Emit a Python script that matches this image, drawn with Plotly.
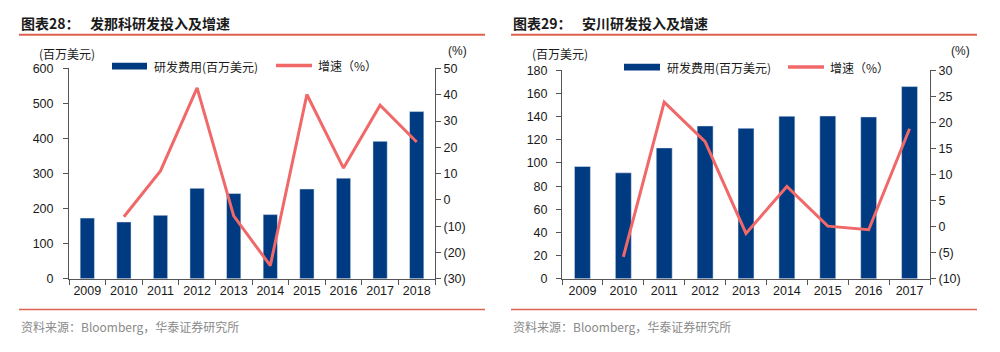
import plotly.graph_objects as go

# ---------------- data ----------------
years_fanuc = ["2009", "2010", "2011", "2012", "2013", "2014", "2015", "2016", "2017", "2018"]
rd_fanuc = [173, 162, 181, 258, 243, 183, 256, 287, 392, 477]
growth_fanuc = [None, -6.4, 11.0, 42.6, -6.1, -25.0, 40.1, 12.1, 36.0, 22.0]

years_yaskawa = ["2009", "2010", "2011", "2012", "2013", "2014", "2015", "2016", "2017"]
rd_yaskawa = [97, 91.5, 113, 132, 130, 140.4, 140.6, 139.8, 166]
growth_yaskawa = [None, -5.8, 23.9, 16.3, -1.3, 7.7, 0.1, -0.6, 18.8]

left_ticks_fanuc = [0, 100, 200, 300, 400, 500, 600]
right_ticks_fanuc = [-30, -20, -10, 0, 10, 20, 30, 40, 50]
right_text_fanuc = ["(30)", "(20)", "(10)", "0", "10", "20", "30", "40", "50"]
left_ticks_yaskawa = [0, 20, 40, 60, 80, 100, 120, 140, 160, 180]
right_ticks_yaskawa = [-10, -5, 0, 5, 10, 15, 20, 25, 30]
right_text_yaskawa = ["(10)", "(5)", "0", "5", "10", "15", "20", "25", "30"]

title_fanuc = ("图表28：", "发那科研发投入及增速")
title_yaskawa = ("图表29：", "安川研发投入及增速")
bar_name = "研发费用(百万美元)"
line_name = "增速（%）"
unit_left = "(百万美元)"
unit_right = "(%)"
source = "资料来源：Bloomberg，华泰证券研究所"

# ---------------- style ----------------
BAR = "#003A80"
LINE = "#F06868"
RED = "#E0614F"
AX = "#555555"
NUM = "Liberation Sans, Arial, sans-serif"
CJK = "Noto Sans CJK SC, sans-serif"
W, H = 1000, 352

def px(x):
    return x / W

def py(y):
    return 1 - y / H

fig = go.Figure()

fig.add_trace(go.Bar(x=years_fanuc, y=rd_fanuc, marker_color=BAR, xaxis="x", yaxis="y",
                     name=bar_name, showlegend=False))
fig.add_trace(go.Scatter(x=years_fanuc, y=growth_fanuc, mode="lines", line=dict(color=LINE, width=3),
                         xaxis="x", yaxis="y2", name=line_name, showlegend=False))
fig.add_trace(go.Bar(x=years_yaskawa, y=rd_yaskawa, marker_color=BAR, xaxis="x2", yaxis="y3",
                     name=bar_name, showlegend=False))
fig.add_trace(go.Scatter(x=years_yaskawa, y=growth_yaskawa, mode="lines", line=dict(color=LINE, width=3),
                         xaxis="x2", yaxis="y4", name=line_name, showlegend=False))

tickfont = dict(family=NUM, size=12.5, color="#1a1a1a")

xcommon = dict(type="category", showline=True, linecolor=AX, linewidth=1, ticks="outside",
               tickson="boundaries", ticklen=5, tickcolor=AX, tickfont=tickfont, showgrid=False,
               zeroline=False, fixedrange=True, tickangle=0)
ycommon = dict(showline=True, linecolor=AX, linewidth=1, ticks="outside", ticklen=5, tickcolor=AX,
               tickfont=tickfont, showgrid=False, zeroline=False)

fig.update_layout(
    width=W, height=H, margin=dict(l=0, r=0, t=0, b=0),
    paper_bgcolor="white", plot_bgcolor="white",
    bargap=0.61, showlegend=False,
    xaxis=dict(**xcommon, domain=[px(69), px(435)], range=[-0.5, 9.5], anchor="y"),
    yaxis=dict(**ycommon, domain=[py(283), py(64)], range=[0, 600], tickvals=left_ticks_fanuc,
               anchor="x", ticklabelstandoff=7),
    yaxis2=dict(**ycommon, range=[-30, 50], tickvals=right_ticks_fanuc, ticktext=right_text_fanuc,
                overlaying="y", side="right", anchor="x"),
    xaxis2=dict(**xcommon, domain=[px(562), px(930)], range=[-0.5, 8.5], anchor="y3"),
    yaxis3=dict(**ycommon, domain=[py(283), py(66)], range=[0, 180], tickvals=left_ticks_yaskawa,
                anchor="x2", ticklabelstandoff=6),
    yaxis4=dict(**ycommon, range=[-10, 30], tickvals=right_ticks_yaskawa, ticktext=right_text_yaskawa,
                overlaying="y3", side="right", anchor="x2"),
)

shapes = []
annotations = []

def add_text(x, y, text, size, color, family=CJK, xanchor="left"):
    annotations.append(dict(x=px(x), y=py(y), xref="paper", yref="paper", text=text, showarrow=False,
                            xanchor=xanchor, yanchor="middle", font=dict(family=family, size=size, color=color)))

def panel(x0, x1, title, title2_x, unit_l_x, unit_r_x, bar_sw, line_sw):
    # title
    add_text(x0, 17, "<b>%s</b>" % title[0], 14, "#1a1a1a")
    add_text(title2_x, 17, "<b>%s</b>" % title[1], 14, "#1a1a1a")
    shapes.append(dict(type="line", xref="paper", yref="paper", x0=px(x0), x1=px(x1), y0=py(29), y1=py(29),
                       line=dict(color=RED, width=2)))
    # bottom rule + source
    shapes.append(dict(type="line", xref="paper", yref="paper", x0=px(x0), x1=px(x1), y0=py(315), y1=py(315),
                       line=dict(color=RED, width=1.5)))
    add_text(x0, 333, source, 12, "#8a8a8a")
    # units
    add_text(unit_l_x, 48, unit_left, 12, "#1a1a1a")
    add_text(unit_r_x, 46, unit_right, 12, "#1a1a1a", family=NUM)
    # legend
    bx0, bx1, by = bar_sw
    shapes.append(dict(type="rect", xref="paper", yref="paper", x0=px(bx0), x1=px(bx1),
                       y0=py(by + 3.5), y1=py(by - 3.5), fillcolor=BAR, line=dict(width=0)))
    add_text(bx1 + 5, by, bar_name, 12, "#1a1a1a")
    lx0, lx1, ly = line_sw
    shapes.append(dict(type="line", xref="paper", yref="paper", x0=px(lx0), x1=px(lx1),
                       y0=py(ly), y1=py(ly), line=dict(color=LINE, width=3.5)))
    add_text(lx1 + 4, ly, line_name, 12, "#1a1a1a")

panel(19, 485, title_fanuc, 88, 37, 446, (112, 147, 61.5), (276, 312, 61))
panel(511, 977, title_yaskawa, 580, 530, 949, (624, 660, 62.5), (788, 824, 62.5))

fig.update_layout(shapes=shapes, annotations=annotations)
fig.write_html("out.html")
